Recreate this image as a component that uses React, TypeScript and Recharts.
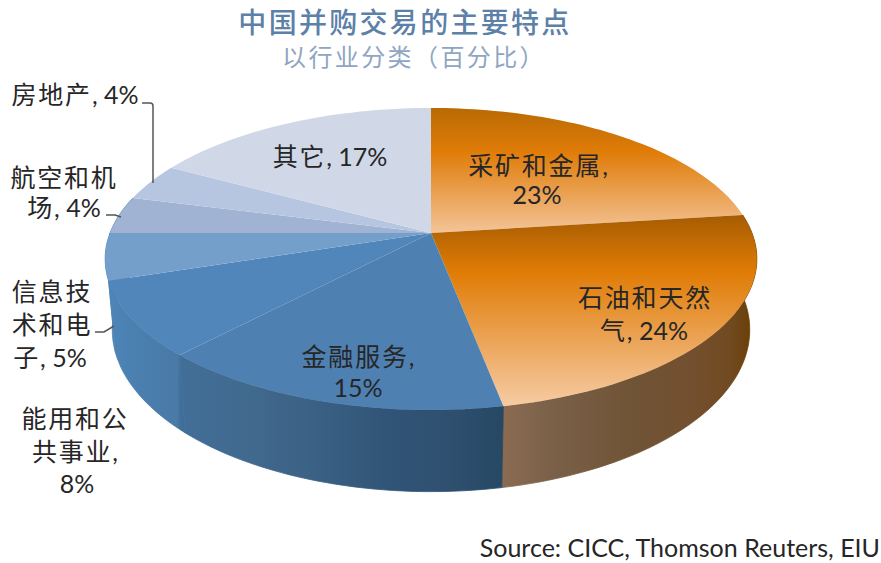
import React from "react"
import { PieChart, Pie } from "recharts"

const categories = ["采矿和金属", "石油和天然气", "金融服务", "能用和公共事业", "信息技术和电子", "航空和机场", "房地产", "其它"]
const shares = [23, 24, 15, 8, 5, 4, 4, 17]
const labelLines = [
  ["采矿和金属,", "23%"],
  ["石油和天然", "气, 24%"],
  ["金融服务,", "15%"],
  ["能用和公", "共事业,", "8%"],
  ["信息技", "术和电", "子, 5%"],
  ["航空和机", "场, 4%"],
  ["房地产, 4%"],
  ["其它, 17%"],
]

// where each label sits, one [x, baseline] per line
const labelPos = [
  [[538, 175], [537, 204]],
  [[645, 307], [644, 340]],
  [[358, 366], [358, 397]],
  [[75, 428], [75, 461], [77, 493]],
  [[52, 301], [52, 334], [50, 367]],
  [[64, 187], [64, 217]],
  [[75, 104]],
  [[330, 166]],
]
const leaders: Record<number, string> = {
  4: "M95 332 L104 332 L114 326",
  5: "M106 215 L115 215 L121 217",
  6: "M142 103 L150 103 Q153 103 153 106 L153 183",
}

const topFills = ["url(#topOrange1)", "url(#topOrange2)", "#4f80b2", "#5086ba", "#739fca", "#a0b3d3", "#b7c6e0", "#d0d8e8"]
const wallFills = ["url(#wallOrange)", "url(#wallOrange)", "url(#wallBlue)", "url(#wallBlue)", "url(#wallBlue)", "url(#wallBlue)", "url(#wallBlue)", "url(#wallBlue)"]

const topRows = categories.map((name, i) => ({ name, value: shares[i], fill: topFills[i] }))
const wallRows = categories.map((name, i) => ({ name, value: shares[i], fill: wallFills[i] }))

// perspective disc: top face and bottom face of the pie
const K = 0.172
const TOP = { x: 431, y: 233, a: 146.5, b: 321 }
const BOTTOM = { x: 431, y: 302, a: 157, b: 314 }

function project(deg: number, f: typeof TOP) {
  const r = (deg * Math.PI) / 180
  const u = Math.cos(r)
  const v = -Math.sin(r)
  const w = 1 - K * v
  return { x: f.x + (f.b * u) / w, y: f.y + (f.a * v) / w, v }
}

function sampleAngles(start: number, end: number) {
  const n = Math.max(2, Math.ceil(Math.abs(end - start) / 1.5))
  return Array.from({ length: n + 1 }, (_, i) => start + ((end - start) * i) / n)
}

const toPath = (pts: { x: number; y: number }[]) =>
  pts.map((p, i) => `${i ? "L" : "M"}${p.x.toFixed(1)} ${p.y.toFixed(1)}`).join(" ")

function TopFace(props: any) {
  const pts = sampleAngles(props.startAngle, props.endAngle).map((a) => project(a, TOP))
  return <path d={`M${TOP.x} ${TOP.y} ${toPath(pts).replace("M", "L")} Z`} fill={props.fill} stroke="none" />
}

function WallFace(props: any) {
  const angles = sampleAngles(props.startAngle, props.endAngle)
  const upper = angles.map((a) => project(a, TOP))
  if (upper.every((p) => p.v < -0.05)) return null
  const lower = angles.map((a) => project(a, BOTTOM)).reverse()
  return <path d={`${toPath(upper)} ${toPath(lower).replace("M", "L")} Z`} fill={props.fill} stroke={props.fill} strokeWidth={0.8} />
}

const textFont = "Lato, 'Noto Sans CJK SC', sans-serif"

function SliceLabel(props: any) {
  const i = props.index
  return (
    <g>
      {leaders[i] && <path d={leaders[i]} fill="none" stroke="#555" strokeWidth={1.5} />}
      {labelLines[i].map((line, j) => (
        <text
          key={j}
          x={labelPos[i][j][0]}
          y={labelPos[i][j][1]}
          textAnchor="middle"
          fontFamily={textFont}
          fontSize={25}
          fill="#262626"
        >
          {/* the CJK runs are set a little wider than the digits */}
          {line.split(/([\u4e00-\u9fff]+)/).map((run, k) => (
            <tspan key={k} letterSpacing={k % 2 ? 1.8 : 0}>
              {run}
            </tspan>
          ))}
        </text>
      ))}
    </g>
  )
}

export default function App() {
  return (
    <div style={{ position: "absolute", left: 0, top: 0, width: 881, height: 563, background: "#fff" }}>
      <PieChart width={881} height={563} margin={{ top: 0, right: 0, bottom: 0, left: 0 }}>
        <defs>
          <linearGradient id="topOrange1" x1="0" y1="0" x2="0" y2="1">
            <stop offset="0" stopColor="#b86a04" />
            <stop offset="0.35" stopColor="#e07c08" />
            <stop offset="1" stopColor="#f3c498" />
          </linearGradient>
          <linearGradient id="topOrange2" x1="0" y1="0" x2="0" y2="1">
            <stop offset="0" stopColor="#a65c02" />
            <stop offset="0.3" stopColor="#e07c06" />
            <stop offset="1" stopColor="#f6cba4" />
          </linearGradient>
          <linearGradient id="wallOrange" gradientUnits="userSpaceOnUse" x1="503" y1="0" x2="756" y2="0">
            <stop offset="0" stopColor="#8a6b52" />
            <stop offset="0.2" stopColor="#7a6048" />
            <stop offset="0.5" stopColor="#6f5436" />
            <stop offset="0.75" stopColor="#734f2e" />
            <stop offset="0.9" stopColor="#704a20" />
            <stop offset="1" stopColor="#6a3c02" />
          </linearGradient>
          <linearGradient id="wallBlue" gradientUnits="userSpaceOnUse" x1="105" y1="0" x2="505" y2="0">
            <stop offset="0" stopColor="#4f85b8" />
            <stop offset="0.08" stopColor="#4a7fb0" />
            <stop offset="0.18" stopColor="#4a7aa6" />
            <stop offset="0.19" stopColor="#416e98" />
            <stop offset="0.35" stopColor="#426a8f" />
            <stop offset="0.5" stopColor="#3c6285" />
            <stop offset="0.7" stopColor="#305577" />
            <stop offset="0.85" stopColor="#2f5070" />
            <stop offset="1" stopColor="#264863" />
          </linearGradient>
        </defs>
        <Pie
          data={wallRows}
          dataKey="value"
          nameKey="name"
          cx={431}
          cy={233}
          outerRadius={100}
          startAngle={90}
          endAngle={-270}
          stroke="none"
          shape={WallFace}
          isAnimationActive={false}
        />
        <Pie
          data={topRows}
          dataKey="value"
          nameKey="name"
          cx={431}
          cy={233}
          outerRadius={100}
          startAngle={90}
          endAngle={-270}
          stroke="none"
          shape={TopFace}
          label={SliceLabel}
          labelLine={false}
          isAnimationActive={false}
        />
        <text x={405} y={33} textAnchor="middle" fontFamily="'Noto Sans CJK SC', sans-serif" fontSize={28} fontWeight={500} letterSpacing={2.3} fill="#5c80a8">
          中国并购交易的主要特点
        </text>
        <text x={414} y={66} textAnchor="middle" fontFamily="'Noto Sans CJK SC', sans-serif" fontSize={24} letterSpacing={2.4} fill="#8fa5c1">
          以行业分类（百分比）
        </text>
        <text x={880} y={557} textAnchor="end" fontFamily="Lato, sans-serif" fontSize={25} fill="#262626">
          Source: CICC, Thomson Reuters, EIU
        </text>
      </PieChart>
    </div>
  )
}
